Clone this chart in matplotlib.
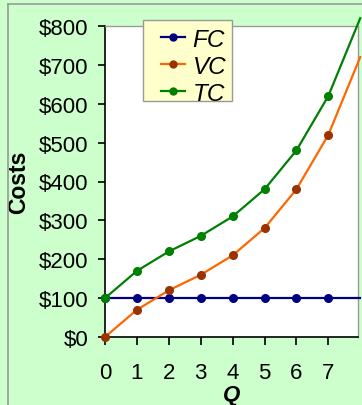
import matplotlib
matplotlib.use("Agg")
import matplotlib.pyplot as plt
from matplotlib.patches import Rectangle
from matplotlib.ticker import FuncFormatter

plt.rcParams['font.family'] = ['Liberation Sans', 'DejaVu Sans']

# Cost schedule by output level Q
q = [0, 1, 2, 3, 4, 5, 6, 7, 8]
fc = [100, 100, 100, 100, 100, 100, 100, 100, 100]
vc = [0, 70, 120, 160, 210, 280, 380, 520, 720]
tc = [100, 170, 220, 260, 310, 380, 480, 620, 820]
x_ticks = [0, 1, 2, 3, 4, 5, 6, 7]
y_ticks = [0, 100, 200, 300, 400, 500, 600, 700, 800]

W, H = 362, 406
fig = plt.figure(figsize=(W / 100, H / 100), dpi=100)
fig.patch.set_facecolor('#CCFFCC')

# thin grey frame along the top and left of the panel
fig.add_artist(plt.Line2D([8 / W, 1], [1 - 4.5 / H, 1 - 4.5 / H], color='#999999', lw=1.2,
                          transform=fig.transFigure))
fig.add_artist(plt.Line2D([8 / W, 8 / W], [0, 1 - 4.5 / H], color='#999999', lw=1.2,
                          transform=fig.transFigure))

AX_L, AX_R, AX_T, AX_B = 105, 358, 27, 338
ax = fig.add_axes([AX_L / W, 1 - AX_B / H, (AX_R - AX_L) / W, (AX_B - AX_T) / H])
ax.set_facecolor('white')

series = [
    ('FC', fc, '#000080', '#000080'),
    ('VC', vc, '#FF6600', '#993300'),
    ('TC', tc, '#008000', '#008000'),
]
for name, vals, lc, mc in series:
    ax.plot(q, vals, color=lc, lw=1.6, clip_on=False, zorder=3)
    ax.plot(q[:-1], vals[:-1], linestyle='none', marker='o', ms=5.5,
            color=mc, clip_on=False, zorder=4)
    # legend proxy
    ax.plot([], [], color=lc, lw=1.6, marker='o', ms=5, mfc=mc, mec=mc, label=name)

ax.set_xlim(0, 7.93)
ax.set_ylim(0, 800)
ax.set_xticks(x_ticks)
ax.set_yticks(y_ticks)
ax.yaxis.set_major_formatter(FuncFormatter(lambda v, p: f'${int(v)}'))

for s in ['left', 'bottom']:
    ax.spines[s].set_color('black')
    ax.spines[s].set_linewidth(1.2)
for s in ['top', 'right']:
    ax.spines[s].set_color('#999999')
    ax.spines[s].set_linewidth(1.0)

ax.tick_params(axis='x', direction='out', length=6, width=1.2, pad=12, labelsize=16)
ax.tick_params(axis='y', direction='out', length=5, width=1.2, pad=7, labelsize=16)

ax.set_ylabel('Costs', fontsize=16.5, fontweight='bold', labelpad=6)
ax.set_xlabel('Q', fontsize=16, fontweight='bold', fontstyle='italic', labelpad=1)


def px_to_axes(x, y):
    return (x - AX_L) / (AX_R - AX_L), (AX_B - y) / (AX_B - AX_T)


# legend box (pale yellow panel with grey border)
x0, y0 = px_to_axes(143, 102)
x1, y1 = px_to_axes(232, 21)
ax.add_patch(Rectangle((x0, y0), x1 - x0, y1 - y0, transform=ax.transAxes,
                       facecolor='#FFFFCC', edgecolor='#999999', lw=1.0,
                       clip_on=False, zorder=5))

leg_handles, leg_labels = ax.get_legend_handles_labels()
lx, ly = px_to_axes(161, 29)
leg = ax.legend(leg_handles[-3:], leg_labels[-3:], loc='upper left',
                bbox_to_anchor=(lx, ly), frameon=False,
                prop={'size': 17.5, 'style': 'italic'},
                handlelength=1.0, handletextpad=0.3, borderpad=0.0, labelspacing=0.16,
                borderaxespad=0)
leg.set_zorder(6)

fig.savefig('out.png', dpi=100, facecolor=fig.get_facecolor())
